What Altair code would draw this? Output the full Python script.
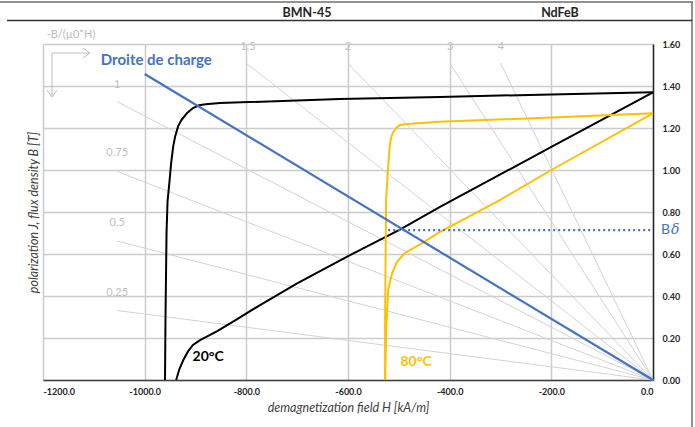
import altair as alt
import pandas as pd

FONT = "Lato"

# Demagnetization curves, H in kA/m, B in T
J20_H = [0, -200, -419, -616, -852, -880, -893, -905, -917, -927, -934, -940, -944, -948, -951, -955, -957, -958, -959, -960]
J20_B = [1.37, 1.36, 1.348, 1.338, 1.319, 1.313, 1.308, 1.295, 1.27, 1.24, 1.21, 1.16, 1.11, 1.03, 0.95, 0.85, 0.70, 0.50, 0.30, 0.0]

B20_H = [0, -200, -419, -498, -596, -700, -773, -818, -858, -891, -905, -915, -924, -932, -938]
B20_B = [1.37, 1.11, 0.824, 0.716, 0.595, 0.46, 0.357, 0.29, 0.232, 0.19, 0.167, 0.135, 0.095, 0.05, 0.0]

J80_H = [0, -200, -419, -470, -498, -505, -511, -515, -517, -519, -521, -523, -525, -526, -527, -527]
J80_B = [1.27, 1.25, 1.23, 1.222, 1.214, 1.20, 1.18, 1.155, 1.128, 1.08, 1.014, 0.94, 0.857, 0.60, 0.30, 0.0]

B80_H = [0, -200, -301, -419, -454, -488, -504, -513, -521, -523, -525, -527]
B80_B = [1.27, 1.0, 0.857, 0.705, 0.652, 0.605, 0.562, 0.51, 0.43, 0.333, 0.224, 0.0]

# Load line and working induction
LOAD_H = [-1000, 0]
LOAD_B = [1.457, 0]
BD_H = [-521, 0]
BD_B = [0.714, 0.714]

# Permeance lines -B/(mu0*H), drawn from their start point to the origin
PERM_LABELS = ["0.25", "0.5", "0.75", "1", "1.5", "2", "3", "4"]
PERM_H0 = [-1054, -1054, -1054, -1054, -801, -601, -400, -300]
PERM_B0 = [0.331, 0.662, 0.993, 1.325, 1.51, 1.51, 1.51, 1.51]
PERM_LABEL_H = [-1054, -1054, -1054, -1054, -797, -600, -399, -299]
PERM_LABEL_B = [0.414, 0.748, 1.081, 1.405, 1.586, 1.586, 1.586, 1.586]

X_TICKS = [-1200, -1000, -800, -600, -400, -200, 0]
Y_TICKS = [0.0, 0.2, 0.4, 0.6, 0.8, 1.0, 1.2, 1.4, 1.6]

W, H = 610, 336


def curve(hs, bs):
    return pd.DataFrame({"H": hs, "B": bs, "i": range(len(hs))})


x_enc = alt.X(
    "H:Q",
    scale=alt.Scale(domain=[-1200, 0], nice=False, zero=False),
    axis=alt.Axis(
        values=X_TICKS,
        labelExpr="(datum.value < 0 ? '-' : '') + format(abs(datum.value), '.1f')",
        title="demagnetization field H [kA/m]",
        titleFont=FONT, titleFontStyle="italic", titleFontWeight="normal",
        titleFontSize=12.5, titleColor="#404040", titlePadding=5,
        labelFont=FONT, labelFontWeight="bold", labelFontSize=9, labelColor="#262626",
        labelPadding=7, ticks=False,
        domainColor="#404040", domainWidth=1.5,
        gridColor="#cccccc", gridWidth=1.5,
    ),
)
y_enc = alt.Y(
    "B:Q",
    scale=alt.Scale(domain=[0, 1.6], nice=False),
    axis=alt.Axis(
        orient="right",
        values=Y_TICKS,
        format=".2f",
        title="polarization J, flux density B [T]",
        titleFont=FONT, titleFontStyle="italic", titleFontWeight="normal",
        titleFontSize=12.5, titleColor="#404040",
        titleAngle=270, titleX=-(W + 3), titleY=H / 2,
        labelFont=FONT, labelFontWeight="bold", labelFontSize=9, labelColor="#262626",
        labelPadding=9, ticks=False,
        domainColor="#262626", domainWidth=1.5,
        gridColor="#cccccc", gridWidth=1.5,
    ),
)

# Permeance lines
perm_rows = []
for lab, h0, b0 in zip(PERM_LABELS, PERM_H0, PERM_B0):
    perm_rows.append({"P": lab, "H": h0, "B": b0, "i": 0})
    perm_rows.append({"P": lab, "H": 0, "B": 0, "i": 1})
perm_df = pd.DataFrame(perm_rows)
perm_lines = alt.Chart(perm_df).mark_line(color="#d3d3d3", strokeWidth=1).encode(
    x=x_enc, y=y_enc, detail="P:N", order="i:Q"
)
perm_text = alt.Chart(
    pd.DataFrame({"H": PERM_LABEL_H, "B": PERM_LABEL_B, "t": PERM_LABELS})
).mark_text(font=FONT, fontSize=11, color="#c0c0c0").encode(x=x_enc, y=y_enc, text="t:N")


def line_layer(df, color, width=2.0, dash=None):
    kw = dict(color=color, strokeWidth=width)
    if dash:
        kw["strokeDash"] = dash
    return alt.Chart(df).mark_line(**kw).encode(x=x_enc, y=y_enc, order="i:Q")


j20 = line_layer(curve(J20_H, J20_B), "#000000")
b20 = line_layer(curve(B20_H, B20_B), "#000000")
j80 = line_layer(curve(J80_H, J80_B), "#FFC000")
b80 = line_layer(curve(B80_H, B80_B), "#FFC000")
load = line_layer(curve(LOAD_H, LOAD_B), "#4472C4", 2.2)
bd = line_layer(curve(BD_H, BD_B), "#4472C4", 2.2, [2, 3])

labels = pd.DataFrame({
    "H": [-977, -875, -466],
    "B": [1.524, 0.11, 0.086],
    "t": ["Droite de charge", "20°C", "80°C"],
    "c": ["#4472C4", "#000000", "#FFC000"],
    "s": [15, 14, 14],
})
label_text = alt.Chart(labels).mark_text(font=FONT, fontWeight="bold").encode(
    x=x_enc, y=y_enc, text="t:N",
    color=alt.Color("c:N", scale=None),
    size=alt.Size("s:Q", scale=None),
)

bd_df = pd.DataFrame({"H": [0], "B": [0.714]})
bd_b = alt.Chart(bd_df).mark_text(
    font=FONT, fontSize=14, color="#4472C4", align="left", dx=8
).encode(x=x_enc, y=y_enc, text=alt.value("B"))
bd_delta = alt.Chart(bd_df).mark_text(
    font="DejaVu Serif", fontSize=14, fontStyle="italic", color="#4472C4", align="left", dx=18
).encode(x=x_enc, y=y_enc, text=alt.value("δ"))

one = pd.DataFrame({"k": [0]})


def rule(x1, y1, x2, y2, color, width):
    return alt.Chart(one).mark_rule(color=color, strokeWidth=width).encode(
        x=alt.value(x1), y=alt.value(y1), x2=alt.value(x2), y2=alt.value(y2)
    )


def label(txt, x, y, size, color, weight="normal"):
    return alt.Chart(one).mark_text(
        font=FONT, fontSize=size, color=color, fontWeight=weight
    ).encode(x=alt.value(x), y=alt.value(y), text=alt.value(txt))


frame = [
    rule(-43, -42, 650, -42, "#6e6e6e", 1.5),
    rule(649, -42, 649, 383, "#6e6e6e", 1.5),
    rule(-36, -23.5, 649, -23.5, "#333333", 1.5),
    label("BMN-45", 264, -31, 12.5, "#262626", "bold"),
    label("NdFeB", 517, -31, 12.5, "#262626", "bold"),
    label("-B/(\u00b50*H)", 28, -9, 11, "#bdbdbd"),
    # direction arrows for the permeance scale
    rule(9, 9, 47, 9, "#bdbdbd", 1),
    rule(40, 4, 47, 9, "#bdbdbd", 1),
    rule(40, 14, 47, 9, "#bdbdbd", 1),
    rule(9, 9, 9, 53, "#bdbdbd", 1),
    rule(4, 46, 9, 53, "#bdbdbd", 1),
    rule(14, 46, 9, 53, "#bdbdbd", 1),
]

chart = alt.layer(
    perm_lines, perm_text, j20, b20, j80, b80, load, bd, label_text, bd_b, bd_delta, *frame
).properties(
    width=W, height=H,
    autosize=alt.AutoSizeParams(type="none"),
    padding={"left": 43, "top": 44, "right": 42, "bottom": 47},
    background="white",
).configure_view(stroke=None)

chart.save("out.html", embed_options={"renderer": "svg", "actions": False})
